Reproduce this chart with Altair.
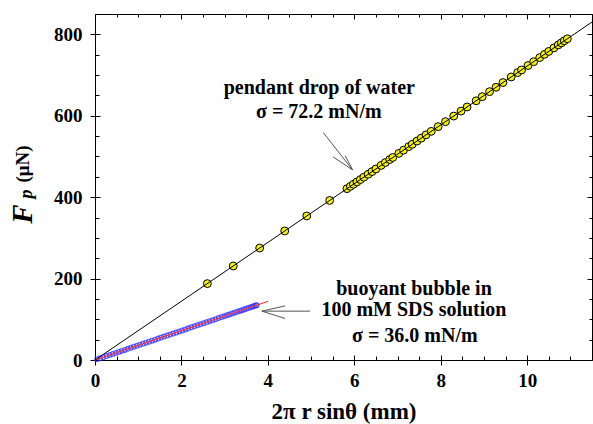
import altair as alt
import pandas as pd

# ---- data ----
water_x = [2.60, 3.20, 3.81, 4.39, 4.90, 5.43, 5.83, 5.91, 5.98, 6.06, 6.14, 6.22,
           6.32, 6.41, 6.50, 6.62, 6.72, 6.82, 6.89, 7.03, 7.14, 7.26, 7.34, 7.45,
           7.55, 7.66, 7.78, 7.94, 8.11, 8.30, 8.47, 8.61, 8.82, 8.96, 9.13, 9.28,
           9.44, 9.63, 9.78, 9.87, 10.02, 10.15, 10.29, 10.40, 10.50, 10.62, 10.72,
           10.79, 10.86, 10.93]
water_y = [187.7, 231.0, 275.1, 317.0, 353.8, 392.0, 420.9, 426.7, 431.8, 437.5,
           443.3, 449.1, 456.3, 462.8, 469.3, 478.0, 485.2, 492.4, 497.5, 507.6,
           515.5, 524.2, 529.9, 537.9, 545.1, 553.1, 561.7, 573.3, 585.5, 599.3,
           611.5, 621.6, 636.8, 646.9, 659.2, 670.0, 681.6, 695.3, 706.1, 712.6,
           723.4, 732.8, 742.9, 750.9, 758.1, 766.8, 774.0, 779.0, 784.1, 789.1]

bubble_x = [0.05, 0.12, 0.19, 0.27, 0.34, 0.41, 0.48, 0.55, 0.62, 0.69, 0.76, 0.83,
            0.90, 0.97, 1.04, 1.11, 1.18, 1.25, 1.32, 1.39, 1.46, 1.53, 1.60, 1.67,
            1.74, 1.81, 1.88, 1.95, 2.02, 2.09, 2.16, 2.23, 2.30, 2.37, 2.44, 2.51,
            2.58, 2.65, 2.72, 2.79, 2.86, 2.93, 2.99, 3.05, 3.11, 3.17, 3.23, 3.29,
            3.35, 3.40, 3.45, 3.50, 3.55, 3.60, 3.64, 3.68, 3.72, 3.74]
bubble_y = [1.8, 4.3, 6.8, 9.7, 12.2, 14.8, 17.3, 19.8, 22.3, 24.8, 27.4, 29.9,
            32.4, 34.9, 37.4, 40.0, 42.5, 45.0, 47.5, 50.0, 52.6, 55.1, 57.6, 60.1,
            62.6, 65.2, 67.7, 70.2, 72.7, 75.2, 77.8, 80.3, 82.8, 85.3, 87.8, 90.4,
            92.9, 95.4, 97.9, 100.4, 103.0, 105.5, 107.6, 109.8, 112.0, 114.1, 116.3,
            118.4, 120.6, 122.4, 124.2, 126.0, 127.8, 129.6, 131.0, 132.5, 133.9, 134.6]

water_fit_x = [0.0, 11.5]
water_fit_y = [0.0, 830.3]
bubble_fit_x = [0.0, 4.0]
bubble_fit_y = [0.0, 144.0]

x_major = [0, 2, 4, 6, 8, 10]
x_minor = [0.5, 1, 1.5, 2.5, 3, 3.5, 4.5, 5, 5.5, 6.5, 7, 7.5, 8.5, 9, 9.5,
           10.5, 11, 11.5]
y_major = [0, 200, 400, 600, 800]
y_minor = [50, 100, 150, 250, 300, 350, 450, 500, 550, 650, 700, 750, 850]

label_text = ["pendant drop of water", "σ = 72.2 mN/m", "buoyant bubble in",
              "100 mM SDS solution", "σ = 36.0 mN/m"]
label_x = [5.19, 5.18, 7.38, 7.38, 7.40]
label_y = [668, 609, 174, 123, 58]

arrow_x = [5.28, 5.51, 5.79, 4.98, 4.40, 4.40]
arrow_y = [559, 499, 502, 120, 133, 102]
arrow_x2 = [5.96, 5.96, 5.96, 3.86, 3.86, 3.86]
arrow_y2 = [467, 467, 467, 120, 120, 120]

# ---- tables ----
water = pd.DataFrame({"x": water_x, "y": water_y})
bubble = pd.DataFrame({"x": bubble_x, "y": bubble_y})
wfit = pd.DataFrame({"x": water_fit_x, "y": water_fit_y})
bfit = pd.DataFrame({"x": bubble_fit_x, "y": bubble_fit_y})
labels = pd.DataFrame({"t": label_text, "x": label_x, "y": label_y})
arrows = pd.DataFrame({"x": arrow_x, "y": arrow_y, "x2": arrow_x2, "y2": arrow_y2})

FONT = "Liberation Serif, Times New Roman, Times, serif"
xs = alt.Scale(domain=[0, 11.5], nice=False, zero=False)
ys = alt.Scale(domain=[0, 850], nice=False, zero=False)


def X(axis=None):
    return alt.X("x:Q", scale=xs, axis=axis)


def Y(axis=None):
    return alt.Y("y:Q", scale=ys, axis=axis)


def axis_layer(xa, ya):
    return alt.Chart(wfit).mark_line(opacity=0).encode(x=X(xa), y=Y(ya))


ax_main = axis_layer(
    alt.Axis(orient="bottom", values=x_major, tickSize=10, offset=-5, labelPadding=6,
             format="d", labelFlush=False, labelOverlap=False,
             title="2π r sinθ  (mm)", titleFont=FONT, titleFontSize=23,
             titleFontWeight="bold", titleColor="black", titleY=63,
             titleBaseline="alphabetic"),
    alt.Axis(orient="left", values=y_major, tickSize=10, offset=-5, labelPadding=8,
             format="d", labelFlush=False, labelOverlap=False, title=None),
)
ax_minor = axis_layer(
    alt.Axis(orient="bottom", values=x_minor, tickSize=4, offset=-4, labels=False, title=None),
    alt.Axis(orient="left", values=y_minor, tickSize=4, offset=-4, labels=False, title=None),
)
ax_top = axis_layer(
    alt.Axis(orient="top", values=x_major, tickSize=5, offset=-5, labels=False, title=None),
    alt.Axis(orient="right", values=y_major, tickSize=5, offset=-5, labels=False, title=None),
)
ax_top_minor = axis_layer(
    alt.Axis(orient="top", values=x_minor, tickSize=3, offset=-3, labels=False, title=None),
    alt.Axis(orient="right", values=y_minor, tickSize=3, offset=-3, labels=False, title=None),
)

bubble_pts = alt.Chart(bubble).mark_point(
    shape="circle", filled=False, color="#2a2aff", size=22, strokeWidth=1.3
).encode(x=X(), y=Y())
bubble_line = alt.Chart(bfit).mark_line(color="#ff2020", strokeWidth=1).encode(x=X(), y=Y())

water_pts = alt.Chart(water).mark_point(
    shape="circle", filled=True, fill="#f2ee1c", stroke="black", strokeWidth=1,
    size=62, opacity=1
).encode(x=X(), y=Y())
water_line = alt.Chart(wfit).mark_line(color="black", strokeWidth=1).encode(x=X(), y=Y())

arrow_layer = alt.Chart(arrows).mark_rule(color="#555555", strokeWidth=1).encode(
    x=X(), y=Y(), x2="x2:Q", y2="y2:Q"
)
text_layer = alt.Chart(labels).mark_text(
    font=FONT, fontSize=20, fontWeight="bold", color="black", align="center",
    baseline="middle"
).encode(x=X(), y=Y(), text="t:N")

one = pd.DataFrame({"t": ["F"]})
yt_F = alt.Chart(one).mark_text(
    text="F", font=FONT, fontSize=29, fontWeight="bold", fontStyle="italic",
    angle=270, align="center", baseline="alphabetic", color="black"
).encode(x=alt.value(-63), y=alt.value(200))
yt_p = alt.Chart(one).mark_text(
    text="p", font=FONT, fontSize=18, fontWeight="bold", fontStyle="italic",
    angle=270, align="center", baseline="alphabetic", color="black"
).encode(x=alt.value(-63), y=alt.value(180))
yt_u = alt.Chart(one).mark_text(
    text="(μN)", font=FONT, fontSize=19, fontWeight="bold",
    angle=270, align="center", baseline="alphabetic", color="black"
).encode(x=alt.value(-66), y=alt.value(150))

chart = alt.layer(
    ax_main, ax_minor, ax_top, ax_top_minor,
    bubble_pts, bubble_line, water_pts, water_line,
    arrow_layer, text_layer, yt_F, yt_p, yt_u,
).resolve_axis(x="independent", y="independent").properties(
    width=497, height=346, autosize="none",
    padding={"left": 95, "top": 14, "right": 1, "bottom": 64},
    background="white",
).configure_view(stroke="black", strokeWidth=1).configure_axis(
    domain=False, grid=False, tickColor="black", tickWidth=1,
    labelFont=FONT, labelFontSize=19, labelFontWeight="bold", labelColor="black",
)

chart.save("out.html", embed_options={"renderer": "svg", "actions": False})
